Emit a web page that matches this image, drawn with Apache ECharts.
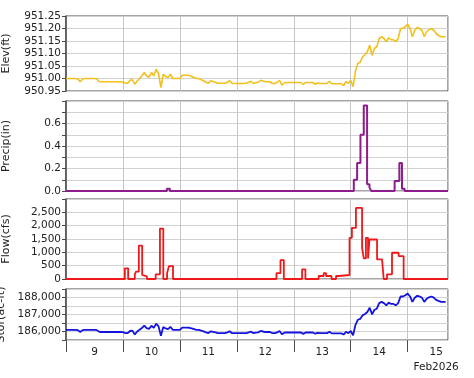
<!DOCTYPE html>
<html>
<head>
<meta charset="utf-8">
<script src="https://cdn.jsdelivr.net/npm/echarts@6/dist/echarts.min.js"></script>
<style>
  html, body { margin: 0; padding: 0; background: #fff; }
  #chart { width: 474px; height: 378px; }
</style>
</head>
<body>
<div id="chart"></div>
<script>
// hours are counted from Feb 9 2026 00:00
var dayLabels = ['9', '10', '11', '12', '13', '14', '15']
var monthLabel = 'Feb2026'
var dayStarts = [0, 24, 48, 72, 96, 120, 144]
var dayMids = [12, 36, 60, 84, 108, 132, 156]

// hourly elevation, h0 .. h160
var elevFt = [
    951.000, 951.000, 951.000, 951.000, 951.000, 950.998, 950.987, 950.998, 951.000, 951.000, 951.000, 951.000,
    951.000, 950.998, 950.988, 950.987, 950.987, 950.987, 950.987, 950.987, 950.987, 950.987, 950.987, 950.987,
    950.986, 950.981, 950.981, 950.993, 950.995, 950.977, 950.990, 951.000, 951.011, 951.024, 951.010, 951.005,
    951.024, 951.011, 951.037, 951.020, 950.964, 951.017, 951.008, 951.004, 951.017, 951.000, 951.000, 951.000,
    951.000, 951.013, 951.013, 951.013, 951.012, 951.008, 951.004, 951.000, 951.000, 950.995, 950.991, 950.985,
    950.981, 950.991, 950.988, 950.985, 950.981, 950.981, 950.981, 950.981, 950.985, 950.991, 950.980, 950.980,
    950.980, 950.980, 950.980, 950.980, 950.981, 950.985, 950.989, 950.980, 950.983, 950.985, 950.993, 950.990,
    950.987, 950.987, 950.987, 950.980, 950.980, 950.985, 950.993, 950.973, 950.983, 950.984, 950.984, 950.984,
    950.984, 950.984, 950.984, 950.984, 950.976, 950.984, 950.984, 950.984, 950.984, 950.977, 950.982, 950.980,
    950.980, 950.980, 950.980, 950.989, 950.979, 950.979, 950.979, 950.979, 950.979, 950.971, 950.988, 950.980,
    950.993, 950.967, 951.030, 951.060, 951.065, 951.087, 951.095, 951.107, 951.133, 951.093, 951.120, 951.127,
    951.160, 951.167, 951.160, 951.147, 951.163, 951.155, 951.155, 951.147, 951.160, 951.200, 951.200, 951.207,
    951.217, 951.200, 951.167, 951.193, 951.204, 951.200, 951.193, 951.167, 951.187, 951.195, 951.200, 951.193,
    951.180, 951.173, 951.167, 951.167, 951.167
]

// hourly storage, h0 .. h160
var storAcFt = [
    186100, 186100, 186100, 186100, 186100, 186080, 185970, 186080, 186100, 186100, 186100, 186100,
    186100, 186080, 185980, 185970, 185970, 185970, 185970, 185970, 185970, 185970, 185970, 185970,
    185960, 185910, 185910, 186030, 186050, 185820, 186000, 186100, 186210, 186340, 186200, 186150,
    186340, 186210, 186460, 186300, 185750, 186270, 186180, 186140, 186270, 186100, 186100, 186100,
    186100, 186230, 186230, 186230, 186220, 186180, 186140, 186100, 186100, 186050, 186010, 185950,
    185910, 186010, 185980, 185950, 185910, 185910, 185910, 185910, 185950, 186010, 185900, 185900,
    185900, 185900, 185900, 185900, 185910, 185950, 185990, 185900, 185930, 185950, 186030, 186000,
    185970, 185970, 185970, 185900, 185900, 185950, 186030, 185840, 185930, 185940, 185940, 185940,
    185940, 185940, 185940, 185940, 185860, 185940, 185940, 185940, 185940, 185870, 185920, 185900,
    185900, 185900, 185900, 185990, 185890, 185890, 185890, 185890, 185890, 185820, 185980, 185900,
    186030, 185780, 186390, 186690, 186740, 186950, 187030, 187150, 187400, 187010, 187280, 187340,
    187670, 187740, 187670, 187540, 187700, 187620, 187620, 187540, 187670, 188060, 188060, 188130,
    188230, 188060, 187740, 187990, 188100, 188060, 187990, 187740, 187930, 188010, 188060, 187990,
    187860, 187800, 187740, 187740, 187740
]

// precip and flow are steps: value holds from its hour to the next one
var precipHours = [0, 42.5, 43.8, 121.3, 122.7, 124.1, 125.5, 126.9, 127.9, 128.7, 138.5, 140.5, 141.6, 142.7, 161]
var precipIn = [0, 0.02, 0, 0.1, 0.25, 0.5, 0.76, 0.06, 0.03, 0, 0.09, 0.25, 0.02, 0, 0]

var flowHours = [0, 24.8, 26.2, 29, 29.5, 30.7, 32.1, 32.8, 34.1, 37.8, 39.6, 41, 42.6, 43.4, 45.1,
    88.7, 90.4, 91.8, 99.5, 100.9, 106.5, 108.6, 109.6, 111.9,
    113.8, 115, 119.5, 120.5, 122.2, 124.8, 125.5, 126.4, 127.3, 127.9, 131.1, 133.2, 133.9,
    135.3, 137.4, 140.2, 142.3, 161]
var flowCfs = [0, 400, 0, 175, 275, 1255, 150, 100, 0, 175, 1890, 0, 220, 485, 0,
    220, 710, 0, 360, 0, 112, 220, 112, 0,
    112, 150, 1545, 1918, 2664, 1172, 772, 1545, 772, 1481, 735, 660, 0,
    175, 985, 860, 0, 0]

function pairs(xs, ys)
{
    var out = []
    for (var i = 0; i < ys.length; i++)
        out.push([xs ? xs[i] : i, ys[i]])
    return out
}

var frame = '#4a4a4a'
var gridColor = '#d2d2d2'
var textColor = '#222'
var tops = [16, 101, 199, 289]
var heights = [75, 90, 80, 51]

var grids = []
var xAxes = []
for (var g = 0; g < 4; g++) {
    grids.push({
        left: 66, right: 26, top: tops[g], height: heights[g],
        outerBoundsMode: 'none', containLabel: false,
        show: true, borderColor: frame, borderWidth: 1
    })
    xAxes.push({
        type: 'value', gridIndex: g, position: 'bottom',
        min: 0, max: 161, interval: 24,
        axisLine: { show: false },
        axisTick: { show: false },
        axisLabel: { show: false },
        splitLine: { lineStyle: { color: '#c6c6c6', width: 1 } }
    })
}
// day ticks and labels under the last panel
xAxes.push({
    type: 'value', gridIndex: 3, position: 'bottom',
    min: 0, max: 161,
    axisLine: { show: false },
    splitLine: { show: false },
    axisTick: { show: true, length: 12, customValues: dayStarts, lineStyle: { color: frame, width: 1 } },
    axisLabel: {
        customValues: dayMids, margin: 5, color: textColor, fontSize: 10.5, lineHeight: 15,
        formatter: function (v) {
            var i = Math.floor(v / 24)
            return dayLabels[i] + (i === dayLabels.length - 1 ? '\n' + monthLabel : '')
        }
    }
})

function yAxis(g, name, min, max, interval, fmt)
{
    return {
        type: 'value', gridIndex: g, min: min, max: max, interval: interval,
        name: name, nameLocation: 'middle', nameGap: 54,
        nameTextStyle: { color: textColor, fontSize: 11 },
        axisLine: { show: true, lineStyle: { color: frame, width: 1.5 } },
        axisTick: { show: true, length: 4, lineStyle: { color: frame } },
        axisLabel: { color: textColor, fontSize: 10.5, margin: 5, formatter: fmt, showMinLabel: true, showMaxLabel: true },
        splitLine: { lineStyle: { color: gridColor, width: 1 } }
    }
}

var option = {
    animation: false,
    textStyle: { fontFamily: 'DejaVu Sans' },
    grid: grids,
    xAxis: xAxes,
    yAxis: [
        yAxis(0, 'Elev(ft)', 950.95, 951.25, 0.05, function (v) { return v.toFixed(2) }),
        yAxis(1, 'Precip(in)', 0, 0.8, 0.1, function (v) {
            var k = Math.round(v * 10)
            return (k % 2 === 0 && k < 8) ? v.toFixed(1) : ''
        }),
        yAxis(2, 'Flow(cfs)', 0, 3000, 500, function (v) {
            return v < 3000 ? v.toLocaleString('en-US') : ''
        }),
        yAxis(3, 'Stor(ac-ft)', 185500, 188500, 500, function (v) {
            return v % 1000 === 0 ? v.toLocaleString('en-US') : ''
        })
    ],
    series: [
        {
            name: 'Elev', type: 'line', xAxisIndex: 0, yAxisIndex: 0,
            showSymbol: false, color: '#f2c01c', lineStyle: { width: 1.6 },
            data: pairs(null, elevFt)
        },
        {
            name: 'Precip', type: 'line', xAxisIndex: 1, yAxisIndex: 1, step: 'end',
            showSymbol: false, color: '#8e1c8e', lineStyle: { width: 2 },
            data: pairs(precipHours, precipIn)
        },
        {
            name: 'Flow', type: 'line', xAxisIndex: 2, yAxisIndex: 2, step: 'end',
            showSymbol: false, color: '#f01818', lineStyle: { width: 1.8 },
            data: pairs(flowHours, flowCfs)
        },
        {
            name: 'Stor', type: 'line', xAxisIndex: 3, yAxisIndex: 3,
            showSymbol: false, color: '#1414e0', lineStyle: { width: 1.8 },
            data: pairs(null, storAcFt)
        }
    ]
};

var chart = echarts.init(document.getElementById('chart'))
chart.setOption(option)
</script>
</body>
</html>
